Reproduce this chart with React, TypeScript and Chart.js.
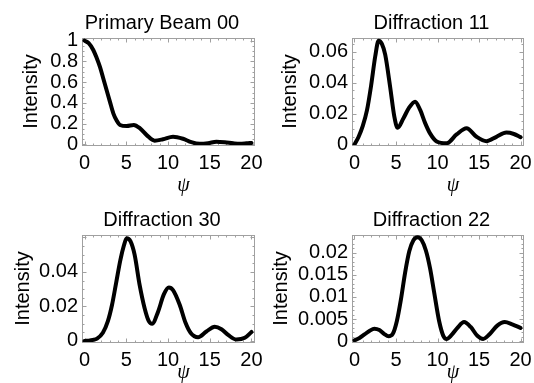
import React, { useEffect, useRef } from "react";
import { Chart, registerables } from "chart.js";

Chart.register(...registerables);
Chart.defaults.font.family = "'Liberation Sans', Arial, sans-serif";

// ---- data ----
const xTicks = [0, 5, 10, 15, 20];

const beam00X = [0, 0.5, 1.05, 1.45, 1.86, 2.25, 2.66, 3.05, 3.45, 3.85, 4.25, 5.05, 5.9, 6.65, 7.45, 8.4, 9.4, 10.6, 11.8, 12.8, 13.8, 14.8, 15.8, 16.8, 17.8, 18.6, 19.4, 20];
const beam00Y = [1.0, 0.975, 0.91, 0.835, 0.745, 0.635, 0.52, 0.41, 0.3, 0.23, 0.188, 0.178, 0.188, 0.155, 0.09, 0.037, 0.05, 0.075, 0.055, 0.022, 0.006, 0.012, 0.027, 0.022, 0.012, 0.007, 0.011, 0.015];
const beam00Ticks = [0, 0.2, 0.4, 0.6, 0.8, 1];

const diff11X = [0, 0.5, 1, 1.5, 2, 2.5, 2.9, 3.3, 3.7, 4.3, 4.8, 5.2, 5.9, 6.6, 7.3, 7.9, 8.5, 9.1, 9.9, 11.1, 12.3, 13.5, 14.7, 15.9, 17.1, 18.3, 19.2, 20];
const diff11Y = [0, 0.005, 0.012, 0.022, 0.038, 0.057, 0.067, 0.065, 0.058, 0.037, 0.018, 0.0108, 0.017, 0.024, 0.0277, 0.0225, 0.014, 0.0072, 0.002, 0.0008, 0.0065, 0.0105, 0.005, 0.0022, 0.005, 0.0077, 0.0068, 0.0048];
const diff11Ticks = [0, 0.02, 0.04, 0.06];

const diff30X = [0, 0.5, 1, 1.5, 2.2, 2.8, 3.3, 3.8, 4.3, 4.7, 5.05, 5.5, 6, 6.6, 7.2, 7.7, 8.1, 8.8, 9.5, 10.1, 10.6, 11.4, 12.1, 12.7, 13.6, 14.6, 15.6, 16.4, 17.2, 18.2, 19.2, 20];
const diff30Y = [0, 0.0002, 0.0006, 0.0014, 0.0048, 0.0115, 0.021, 0.034, 0.047, 0.055, 0.0595, 0.0578, 0.05, 0.0325, 0.019, 0.0115, 0.01, 0.0168, 0.027, 0.031, 0.0295, 0.021, 0.0105, 0.0048, 0.0022, 0.0055, 0.0082, 0.0068, 0.0035, 0.0008, 0.0018, 0.0052];
const diff30Ticks = [0, 0.02, 0.04];

const diff22X = [0, 0.6, 1.2, 1.8, 2.4, 3.0, 3.6, 4.1, 4.6, 5.1, 5.6, 6.1, 6.6, 7.1, 7.6, 8.1, 8.6, 9.1, 9.6, 10.2, 10.7, 11.1, 11.7, 12.4, 13.2, 14.0, 14.8, 15.5, 16.3, 17.2, 18.1, 19.0, 20];
const diff22Y = [0.0002, 0.0007, 0.0015, 0.0023, 0.0028, 0.0025, 0.0016, 0.0011, 0.0016, 0.0045, 0.0095, 0.0155, 0.0203, 0.0228, 0.0235, 0.0228, 0.0205, 0.0165, 0.011, 0.0045, 0.0012, 0.0005, 0.0014, 0.003, 0.0043, 0.0032, 0.0012, 0.0005, 0.0016, 0.0035, 0.0043, 0.0038, 0.003];
const diff22Ticks = [0, 0.005, 0.01, 0.015, 0.02];

const titles = ["Primary Beam 00", "Diffraction 11", "Diffraction 30", "Diffraction 22"];
const yLabel = "Intensity";
const xLabel = "\u03C8";

type PanelCfg = {
  title: string;
  xs: number[];
  ys: number[];
  yTicks: number[];
  yMin: number;
  yMax: number;
  yMinorDiv: number;
  left: number;
  top: number;
  width: number;
  height: number;
  yw: number;
  xh: number;
  padT: number;
  padR: number;
  yTitlePad: number;
  psiDy: number;
};

const panels: PanelCfg[] = [
  { title: titles[0], xs: beam00X, ys: beam00Y, yTicks: beam00Ticks, yMin: -0.005, yMax: 1.025, yMinorDiv: 4,
    left: 0, top: 0, width: 280, height: 200, yw: 82, xh: 55, padT: 38, padR: 26, yTitlePad: 19.4, psiDy: 45.5 },
  { title: titles[1], xs: diff11X, ys: diff11Y, yTicks: diff11Ticks, yMin: -0.0003, yMax: 0.0688, yMinorDiv: 4,
    left: 267, top: 0, width: 290, height: 200, yw: 85, xh: 55, padT: 38, padR: 34, yTitlePad: 11.1, psiDy: 45.5 },
  { title: titles[2], xs: diff30X, ys: diff30Y, yTicks: diff30Ticks, yMin: -0.0006, yMax: 0.0614, yMinorDiv: 4,
    left: 0, top: 192, width: 280, height: 191, yw: 82, xh: 41, padT: 43, padR: 26, yTitlePad: 11.1, psiDy: 35.5 },
  { title: titles[3], xs: diff22X, ys: diff22Y, yTicks: diff22Ticks, yMin: -0.0002, yMax: 0.0240, yMinorDiv: 5,
    left: 267, top: 192, width: 290, height: 191, yw: 85, xh: 41, padT: 43, padR: 34, yTitlePad: 2.8, psiDy: 35.5 },
];

const fmt = (v: number) => String(+Number(v).toFixed(6));

function makeFramePlugin(cfg: PanelCfg) {
  return {
    id: "frameAndLabels",
    beforeDatasetsDraw(chart: any) {
      const { ctx, chartArea } = chart;
      const xs = chart.scales.x;
      const ys = chart.scales.y;
      const L = Math.floor(chartArea.left) + 0.5;
      const R = Math.floor(chartArea.right) + 0.5;
      const T = Math.floor(chartArea.top) + 0.5;
      const B = Math.floor(chartArea.bottom) + 0.5;
      ctx.save();
      ctx.strokeStyle = "#a0a0a0";
      ctx.lineWidth = 1;
      ctx.strokeRect(L, T, R - L, B - T);
      ctx.beginPath();
      // x ticks
      for (let v = 0; v <= 20; v += 1) {
        const px = Math.round(xs.getPixelForValue(v)) + 0.5;
        const len = v % 5 === 0 ? 4 : 2;
        ctx.moveTo(px, B); ctx.lineTo(px, B - len);
        ctx.moveTo(px, T); ctx.lineTo(px, T + len);
      }
      // y ticks
      const step = cfg.yTicks[1] - cfg.yTicks[0];
      const minor = step / cfg.yMinorDiv;
      const n = Math.floor((cfg.yMax - 0) / minor + 1e-6);
      for (let i = 0; i <= n; i++) {
        const v = i * minor;
        const py = Math.round(ys.getPixelForValue(v)) + 0.5;
        const len = i % cfg.yMinorDiv === 0 ? 4 : 2;
        ctx.moveTo(L, py); ctx.lineTo(L + len, py);
        ctx.moveTo(R, py); ctx.lineTo(R - len, py);
      }
      ctx.stroke();
      ctx.restore();
    },
    afterDraw(chart: any) {
      const { ctx, chartArea } = chart;
      const cx = (chartArea.left + chartArea.right) / 2;
      ctx.save();
      ctx.fillStyle = "#000";
      ctx.textAlign = "center";
      ctx.textBaseline = "alphabetic";
      ctx.font = "20px 'Liberation Sans', Arial, sans-serif";
      ctx.fillText(cfg.title, cx - 6, chartArea.top - 9);
      ctx.font = "italic 20px 'Liberation Serif', 'Times New Roman', serif";
      ctx.fillText(xLabel, cx + 15.5, chartArea.bottom + cfg.psiDy);
      ctx.restore();
    },
  };
}

function Panel({ cfg }: { cfg: PanelCfg }) {
  const ref = useRef<HTMLCanvasElement>(null);
  useEffect(() => {
    if (!ref.current) return;
    const chart = new Chart(ref.current, {
      type: "line",
      data: {
        datasets: [
          {
            data: cfg.xs.map((x, i) => ({ x, y: cfg.ys[i] })),
            borderColor: "#000",
            borderWidth: 4,
            pointRadius: 0,
            fill: false,
            cubicInterpolationMode: "monotone",
            borderCapStyle: "round",
            borderJoinStyle: "round",
          },
        ],
      },
      options: {
        animation: false,
        responsive: false,
        maintainAspectRatio: false,
        devicePixelRatio: 1,
        layout: { padding: { left: 0, right: cfg.padR, top: cfg.padT, bottom: 0 } },
        plugins: { legend: { display: false }, tooltip: { enabled: false }, title: { display: false } },
        scales: {
          x: {
            type: "linear",
            min: -0.3,
            max: 20.3,
            afterBuildTicks: (s: any) => { s.ticks = xTicks.map((v) => ({ value: v })); },
            afterFit: (s: any) => { s.height = cfg.xh; },
            grid: { display: false, drawTicks: false },
            border: { display: false },
            ticks: { autoSkip: false, maxRotation: 0, padding: 6, color: "#000", font: { size: 20 }, callback: (v: any) => fmt(v) },
          },
          y: {
            type: "linear",
            min: cfg.yMin,
            max: cfg.yMax,
            afterBuildTicks: (s: any) => { s.ticks = cfg.yTicks.map((v) => ({ value: v })); },
            afterFit: (s: any) => { s.width = cfg.yw; },
            grid: { display: false, drawTicks: false },
            border: { display: false },
            ticks: { autoSkip: false, padding: 4, color: "#000", font: { size: 20 }, callback: (v: any) => fmt(v) },
            title: { display: true, text: yLabel, color: "#000", font: { size: 20 }, padding: { top: cfg.yTitlePad, bottom: 0 } },
          },
        },
      } as any,
      plugins: [makeFramePlugin(cfg)],
    });
    return () => chart.destroy();
  }, []);
  return (
    <canvas
      ref={ref}
      width={cfg.width}
      height={cfg.height}
      style={{ position: "absolute", left: cfg.left, top: cfg.top, width: cfg.width, height: cfg.height }}
    />
  );
}

export default function App() {
  return (
    <div style={{ position: "fixed", left: 0, top: 0, width: 534, height: 383, overflow: "hidden", background: "#fff" }}>
      {panels.map((p, i) => (
        <Panel key={i} cfg={p} />
      ))}
    </div>
  );
}
